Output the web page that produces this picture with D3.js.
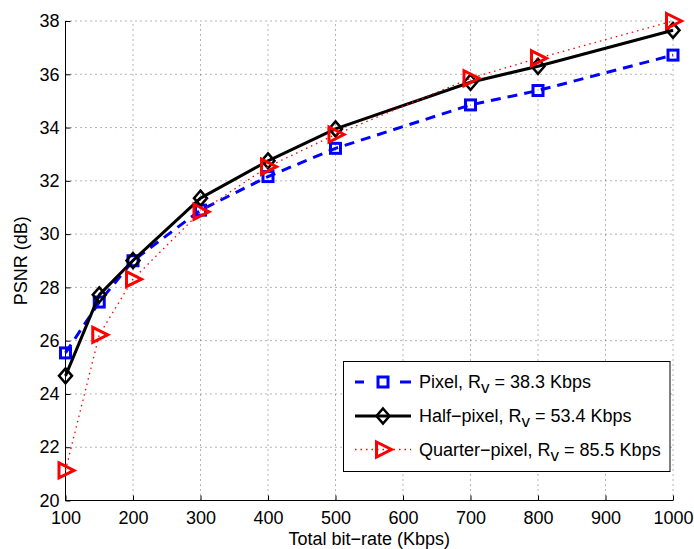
<!DOCTYPE html>
<html><head><meta charset="utf-8">
<script src="https://cdn.jsdelivr.net/npm/d3@7"></script>
<style>body{margin:0;background:#fff}svg{display:block}text{font-family:"Liberation Sans",Arial,sans-serif}</style>
</head><body><svg id="c" width="694" height="549"></svg>
<script>
const bitrates = [100,150,200,300,400,500,700,800,1000];
const pixelPSNR = [25.54,27.45,29.0,30.9,32.16,33.22,34.85,35.39,36.72];
const halfPSNR = [24.68,27.72,29.01,31.35,32.75,33.95,35.7,36.3,37.65];
const quarterPSNR = [21.13,26.22,28.31,30.84,32.53,33.74,35.85,36.6,38.0];
const xTicks = [100,200,300,400,500,600,700,800,900,1000];
const yTicks = [20,22,24,26,28,30,32,34,36,38];
const seriesNames = ["Pixel","Half\u2212pixel","Quarter\u2212pixel"];
const seriesRates = ["38.3","53.4","85.5"];

const FS = 18;
const svg = d3.select("#c");
const x = d3.scaleLinear().domain([100,1000]).range([65.5,673]);
const y = d3.scaleLinear().domain([20,38]).range([500.5,21]);

// grid
const g = svg.append("g");
g.selectAll(".gx").data(xTicks).join("line")
  .attr("x1",d=>x(d)).attr("x2",d=>x(d)).attr("y1",y(20)).attr("y2",y(38))
  .attr("stroke","#444").attr("stroke-width",1).attr("stroke-dasharray","1,4").attr("opacity",0.8);
g.selectAll(".gy").data(yTicks).join("line")
  .attr("y1",d=>y(d)).attr("y2",d=>y(d)).attr("x1",x(100)).attr("x2",x(1000))
  .attr("stroke","#444").attr("stroke-width",1).attr("stroke-dasharray","1,4").attr("opacity",0.8);

// axes
const xAxis = d3.axisBottom(x).tickValues(xTicks).tickSize(-5).tickPadding(10.5).tickFormat(d3.format("d"));
const yAxis = d3.axisLeft(y).tickValues(yTicks).tickSize(-5).tickPadding(6).tickFormat(d3.format("d"));
const ax = svg.append("g").attr("transform",`translate(0,${y(20)})`).call(xAxis);
const ay = svg.append("g").attr("transform",`translate(${x(100)},0)`).call(yAxis);
[ax,ay].forEach(a=>{
  a.attr("font-size",FS).attr("font-family","Liberation Sans, Arial, sans-serif");
  a.select(".domain").attr("stroke","#000").attr("stroke-width",1);
  a.selectAll(".tick line").attr("stroke","#000");
  a.selectAll(".tick text").attr("fill","#000");
});
ax.select(".domain").attr("d",`M${x(100)},0H${x(1000)}`);
ay.select(".domain").attr("d",`M0,${y(20)}V${y(38)}`);

svg.append("text").attr("x",(x(100)+x(1000))/2).attr("y",545).attr("text-anchor","middle")
  .attr("font-size",FS).text("Total bit\u2212rate (Kbps)");
svg.append("text").attr("transform",`translate(27,${(y(20)+y(38))/2}) rotate(-90)`).attr("text-anchor","middle")
  .attr("font-size",FS).text("PSNR (dB)");

const styles = [
  {color:"#0000ff", width:3, dash:"10,7", marker:"square"},
  {color:"#000000", width:3, dash:null, marker:"diamond"},
  {color:"#ff0000", width:1.3, dash:"1.5,4", marker:"triangle"}
];
const data = [pixelPSNR, halfPSNR, quarterPSNR];
const line = d3.line().x((d,i)=>x(bitrates[i])).y(d=>y(d));

function drawMarker(sel, type, color){
  if(type==="square"){
    sel.append("rect").attr("x",-5).attr("y",-5).attr("width",10).attr("height",10)
      .attr("fill","none").attr("stroke",color).attr("stroke-width",3);
  } else if(type==="diamond"){
    sel.append("path").attr("d","M0,-7.5L6.5,0L0,7.5L-6.5,0Z").attr("fill","none").attr("stroke",color).attr("stroke-width",2.5);
  } else {
    sel.append("path").attr("d","M-6.5,-7.5L8.5,0L-6.5,7.5Z").attr("fill","none").attr("stroke",color).attr("stroke-width",3).attr("stroke-linejoin","miter");
  }
}

data.forEach((vals,si)=>{
  const s = styles[si];
  svg.append("path").datum(vals).attr("d",line).attr("fill","none")
    .attr("stroke",s.color).attr("stroke-width",s.width)
    .attr("stroke-dasharray",s.dash).attr("stroke-linejoin","round");
  vals.forEach((v,i)=>{
    const m = svg.append("g").attr("transform",`translate(${x(bitrates[i])},${y(v)})`);
    drawMarker(m, s.marker, s.color);
  });
});

// legend
const lg = svg.append("g");
lg.append("rect").attr("x",343.5).attr("y",361.5).attr("width",326.5).attr("height",110)
  .attr("fill","#fff").attr("stroke","#000").attr("stroke-width",1);
const rowsY = [382,416,449.5];
styles.forEach((s,i)=>{
  const ry = rowsY[i];
  if(s.marker==="square"){
    lg.append("line").attr("x1",355).attr("x2",364).attr("y1",ry).attr("y2",ry).attr("stroke",s.color).attr("stroke-width",s.width);
    lg.append("line").attr("x1",400).attr("x2",411).attr("y1",ry).attr("y2",ry).attr("stroke",s.color).attr("stroke-width",s.width);
  } else {
    lg.append("line").attr("x1",355).attr("x2",411).attr("y1",ry).attr("y2",ry)
      .attr("stroke",s.color).attr("stroke-width",s.width).attr("stroke-dasharray",s.dash);
  }
  const m = lg.append("g").attr("transform",`translate(383,${ry})`);
  drawMarker(m, s.marker, s.color);
  const t = lg.append("text").attr("x",419).attr("y",ry+6).attr("font-size",FS);
  t.append("tspan").text(seriesNames[i]+", R");
  t.append("tspan").attr("dy",5).attr("font-size",FS-1).text("v");
  t.append("tspan").attr("dy",-5).text(" = "+seriesRates[i]+" Kbps");
});
</script></body></html>
